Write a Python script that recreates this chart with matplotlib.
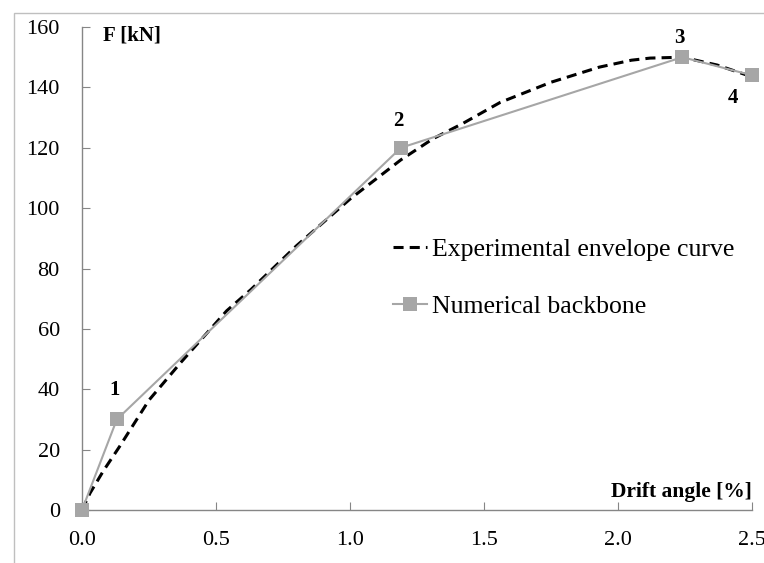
import matplotlib
matplotlib.use("Agg")
import matplotlib.pyplot as plt
from matplotlib.patches import Rectangle

# Experimental envelope curve
exp_x = [0, 0.03, 0.08, 0.14, 0.25, 0.37, 0.54, 0.63, 0.8, 1.0, 1.19, 1.31, 1.42,
         1.56, 1.75, 1.93, 2.05, 2.12, 2.24, 2.37, 2.5]
exp_y = [0, 5.6, 13, 21, 36.4, 49, 66, 73, 87.5, 103, 116, 123, 128,
         135, 141.7, 146.7, 149, 149.7, 150, 147.4, 143.5]

# Numerical backbone points
num_x = [0, 0.13, 1.19, 2.24, 2.5]
num_y = [0, 30, 120, 150, 144]
point_labels = ["", "1", "2", "3", "4"]

x_ticks = [0.0, 0.5, 1.0, 1.5, 2.0, 2.5]
y_ticks = [0, 20, 40, 60, 80, 100, 120, 140, 160]

plt.rcParams['font.family'] = ['Liberation Serif', 'DejaVu Serif']

fig = plt.figure(figsize=(7.64, 5.63), dpi=100)
# outer chart border (partly clipped)
fig.patches.append(Rectangle((14/764, -0.1), 2.0, (563-13)/563 + 0.1,
                             transform=fig.transFigure, fill=False,
                             edgecolor='#bfbfbf', lw=1.0))
ax = fig.add_axes([82/764, (563-510)/563, (752-82)/764, (510-27)/563])

ax.plot(exp_x, exp_y, color='black', lw=2.2, dashes=(3.3, 2.0),
        label='Experimental envelope curve', zorder=2)
ax.plot(num_x, num_y, color='#a6a6a6', lw=1.5, marker='s', markersize=9.5,
        markeredgewidth=0, label='Numerical backbone', zorder=3, clip_on=False)

offsets = {"1": (-0.007, 9.7), "2": (-0.01, 9.0), "3": (-0.01, 6.3), "4": (-0.07, -7.5)}
for x, y, lab in zip(num_x, num_y, point_labels):
    if lab:
        dx, dy = offsets[lab]
        ax.text(x + dx, y + dy, lab, fontsize=15, fontweight='bold',
                ha='center', va='center')

ax.set_xlim(0, 2.5)
ax.set_ylim(0, 160)
ax.set_xticks(x_ticks)
ax.set_xticklabels([f"{v:.1f}" for v in x_ticks])
ax.set_yticks(y_ticks)
for s in ['top', 'right']:
    ax.spines[s].set_visible(False)
for s in ['left', 'bottom']:
    ax.spines[s].set_color('#868686')
    ax.spines[s].set_linewidth(1.0)
ax.tick_params(direction='in', length=6, color='#868686', labelsize=16)
ax.tick_params(axis='y', pad=16)
ax.tick_params(axis='x', pad=15)

ax.text(0.078, 157.3, 'F [kN]', fontsize=15, fontweight='bold', ha='left', va='center')
ax.text(2.5, 6, 'Drift angle [%]', fontsize=15.5, fontweight='bold', ha='right', va='center')

leg = ax.legend(loc='upper left', bbox_to_anchor=(370/764, 1 - 215/563),
                bbox_transform=fig.transFigure, frameon=False, fontsize=18.5,
                handlelength=1.3, handletextpad=0.2, labelspacing=1.32)

fig.savefig('out.png', dpi=100)
